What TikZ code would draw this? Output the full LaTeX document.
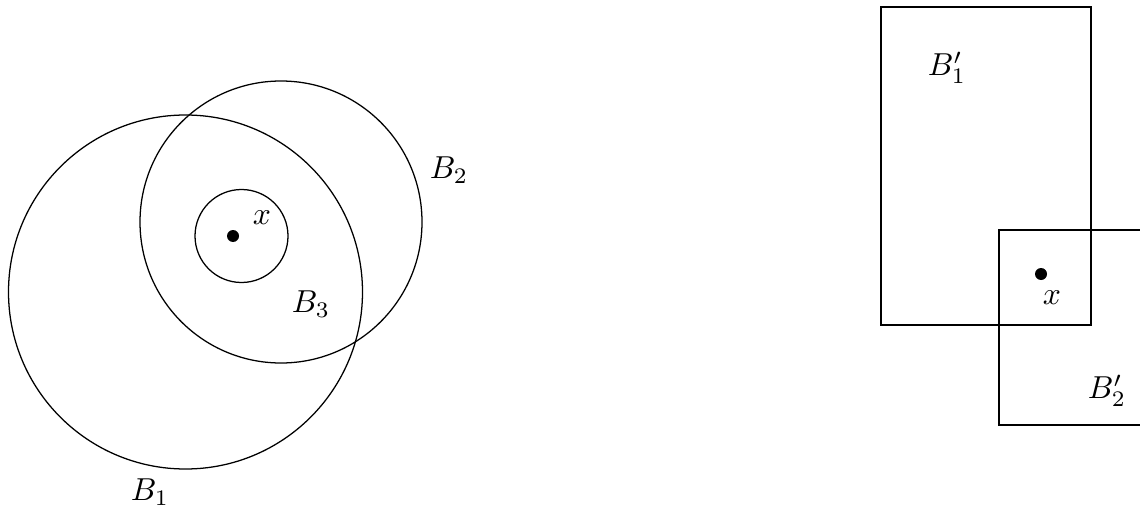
\documentclass[tikz,border=0pt]{standalone}
\begin{document}
\begin{tikzpicture}[x=0.315pt, y=0.315pt, lbl/.style={inner sep=0pt}]
    \useasboundingbox (0,0) rectangle (1140,-510);
    \clip (0,0) rectangle (1140,-510);

    % Bolas en el plano
    \draw (185.5,-292) circle[radius=177];
    \draw (281,-222) circle[radius=141];
    \draw (241.5,-236) circle[radius=46.5];
    \fill (233,-236) circle[radius=6];
    \node[lbl] (xb) at (262,-218) {$x$};
    \node[lbl] (b1) at (150,-492) {$B_1$};
    \node[lbl] (b2) at (449,-170) {$B_2$};
    \node[lbl] (b3) at (311,-304) {$B_3$};

    % Rectángulos
    \draw (881,-7) rectangle (1091,-325);
    \draw (999,-230) rectangle (1160,-425);
    \fill (1041,-274) circle[radius=6];
    \node[lbl] (xr) at (1052,-298) {$x$};
    \node[lbl] (r1) at (947,-68) {$B_1'$};
    \node[lbl] (r2) at (1107,-391) {$B_2'$};
\end{tikzpicture}
\end{document}
